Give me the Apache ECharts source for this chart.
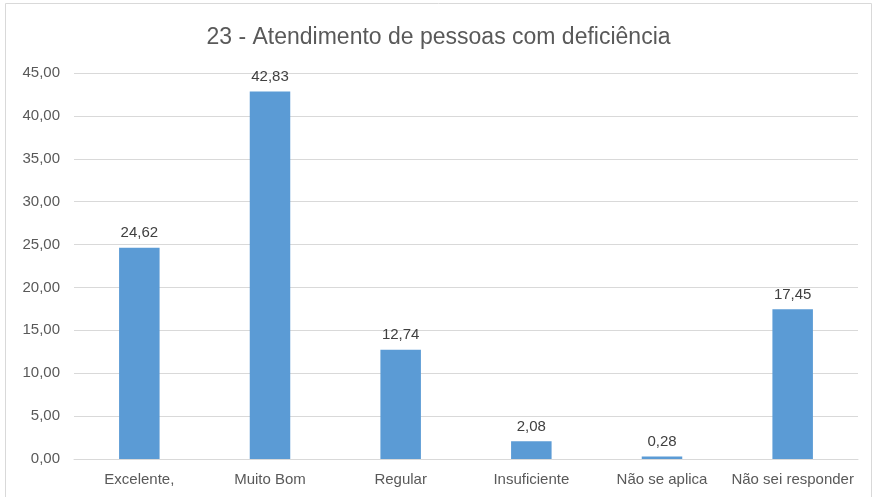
<!DOCTYPE html>
<html>
<head>
<meta charset="utf-8">
<script src="https://cdn.jsdelivr.net/npm/echarts@6/dist/echarts.min.js"></script>
<style>
  html, body { margin: 0; padding: 0; background: #fff; }
  #chart { width: 877px; height: 497px; }
</style>
</head>
<body>
<div id="chart"></div>
<script>
const categories = ['Excelente,', 'Muito Bom', 'Regular', 'Insuficiente', 'Não se aplica', 'Não sei responder'];
const values = [24.62, 42.83, 12.74, 2.08, 0.28, 17.45];

const fmt = v => v.toFixed(2).replace('.', ',');
const font = '"Liberation Sans", sans-serif';

const chart = echarts.init(document.getElementById('chart'));
chart.setOption({
  animation: false,
  textStyle: { fontFamily: font },
  title: {
    text: '23 - Atendimento de pessoas com deficiência',
    left: 'center',
    top: 21,
    textStyle: { color: '#595959', fontSize: 23, fontWeight: 'normal', fontFamily: font }
  },
  graphic: [{
    type: 'rect',
    shape: { x: 5.5, y: 3.5, width: 866, height: 500 },
    style: { fill: 'none', stroke: '#d9d9d9', lineWidth: 1 },
    silent: true
  }],
  grid: { left: 74, right: 19, top: 73, bottom: 38 },
  xAxis: {
    type: 'category',
    data: categories,
    axisLine: { lineStyle: { color: '#d9d9d9' } },
    axisTick: { show: false },
    axisLabel: { color: '#595959', fontSize: 15, margin: 13, interval: 0 }
  },
  yAxis: {
    type: 'value',
    min: 0,
    max: 45,
    interval: 5,
    axisLine: { show: false },
    axisTick: { show: false },
    splitLine: { lineStyle: { color: '#d9d9d9' } },
    axisLabel: { color: '#595959', fontSize: 15, margin: 14, formatter: v => fmt(v) }
  },
  series: [{
    type: 'bar',
    data: values,
    barWidth: '31%',
    itemStyle: { color: '#5b9bd5' },
    label: {
      show: true,
      position: 'top',
      distance: 7,
      color: '#404040',
      fontSize: 15,
      fontFamily: font,
      formatter: p => fmt(p.value)
    }
  }]
});
</script>
</body>
</html>
